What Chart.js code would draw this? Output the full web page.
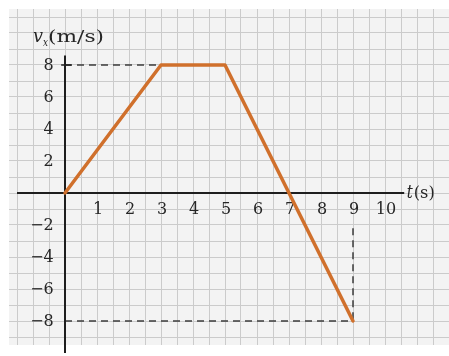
<!DOCTYPE html>
<html>
<head>
<meta charset="utf-8">
<script src="https://cdn.jsdelivr.net/npm/chart.js@4/dist/chart.umd.min.js"></script>
<style>
  html, body { margin: 0; padding: 0; background: #ffffff; }
  #wrap { width: 449px; height: 356px; }
</style>
</head>
<body>
<div id="wrap"><canvas id="vt" width="449" height="356"></canvas></div>
<script>
// 速度-時間グラフのデータ
const timeValues = [0, 3, 5, 9];
const velocityValues = [0, 8, 8, -8];

// 目盛りラベル
const xTickValues = [1, 2, 3, 4, 5, 6, 7, 8, 9, 10];
const xTickLabels = ['1', '2', '3', '4', '5', '6', '7', '8', '9', '10'];
const yTickValues = [8, 6, 4, 2, -2, -4, -6, -8];
const yTickLabels = ['8', '6', '4', '2', '\u22122', '\u22124', '\u22126', '\u22128'];

// 補助線（破線）
const guideTop = [[0, 8], [3, 8]];
const guideBottom = [[0, -8], [9, -8]];
const guideRight = [[9, -2.2], [9, -8]];

// 座標軸
const xAxisLine = [[-1.5, 0], [10.6, 0]];
const yAxisLine = [[0, 8.6], [0, -10]];
const yTickMark = [[-0.12, 8], [0.2, 8]];

const toPoints = pairs => pairs.map(p => ({ x: p[0], y: p[1] }));

// 方眼の線を step ごとに並べ直す
const gridTicks = step => s => {
    const ticks = [];
    for (let v = Math.ceil(s.min / step) * step; v <= s.max + 1e-9; v += step) {
        ticks.push({ value: Math.round(v * 1000) / 1000 });
    }
    s.ticks = ticks;
};

const LABEL_FONT = '16px "DejaVu Serif"';
const TEXT_COLOR = '#262626';

// 横幅を合わせてテキストを描く
function drawFitted(ctx, text, x, y, font, width) {
    ctx.save();
    ctx.font = font;
    const w = ctx.measureText(text).width;
    ctx.translate(x, y);
    if (width) ctx.scale(width / w, 1);
    ctx.fillText(text, 0, 0);
    ctx.restore();
}

// 背景・ラベル描画
const paperPlugin = {
    id: 'paper',
    beforeDraw(chart) {
        const { ctx, chartArea } = chart;
        ctx.save();
        ctx.fillStyle = '#f3f3f3';
        ctx.fillRect(chartArea.left, chartArea.top, chartArea.right - chartArea.left, chartArea.bottom - chartArea.top);
        ctx.restore();
    },
    beforeDatasetsDraw(chart) {
        const { ctx } = chart;
        const xs = chart.scales.x;
        const ys = chart.scales.y;
        ctx.save();
        ctx.fillStyle = TEXT_COLOR;
        ctx.font = LABEL_FONT;

        ctx.textAlign = 'center';
        ctx.textBaseline = 'middle';
        xTickValues.forEach((v, i) => {
            ctx.fillText(xTickLabels[i], xs.getPixelForValue(v) + 1, ys.getPixelForValue(-1.05));
        });

        ctx.textAlign = 'right';
        yTickValues.forEach((v, i) => {
            ctx.fillText(yTickLabels[i], xs.getPixelForValue(-0.35), ys.getPixelForValue(v) + 1);
        });

        // 縦軸タイトル v_x(m/s)
        ctx.textAlign = 'left';
        ctx.textBaseline = 'alphabetic';
        const tx = xs.getPixelForValue(-1);
        const ty = ys.getPixelForValue(9.45);
        drawFitted(ctx, 'v', tx, ty, 'italic 18px "DejaVu Serif"', 10);
        drawFitted(ctx, 'x', tx + 10, ty + 4, 'italic 11px "DejaVu Serif"', 5);
        drawFitted(ctx, '(m/s)', tx + 15, ty, '17px "DejaVu Serif"', 56);

        // 横軸タイトル t(s)
        const sx = xs.getPixelForValue(10.68);
        const sy = ys.getPixelForValue(-0.3);
        drawFitted(ctx, 't', sx, sy, 'italic 18px "DejaVu Serif"', 6);
        drawFitted(ctx, '(s)', sx + 7, sy, '17px "DejaVu Serif"', 21);
        ctx.restore();
    }
};

const dashed = {
    borderColor: '#3c3c3c',
    borderWidth: 1.5,
    borderDash: [7, 5],
    pointRadius: 0,
    fill: false
};
const solidAxis = {
    borderColor: '#1e1e1e',
    borderWidth: 2,
    pointRadius: 0,
    fill: false,
    clip: false
};

new Chart(document.getElementById('vt'), {
    type: 'line',
    data: {
        datasets: [
            {
                label: 'vx',
                data: timeValues.map((t, i) => ({ x: t, y: velocityValues[i] })),
                borderColor: '#d0702c',
                borderWidth: 3.5,
                borderJoinStyle: 'round',
                borderCapStyle: 'round',
                pointRadius: 0,
                tension: 0,
                fill: false
            },
            Object.assign({ data: toPoints(xAxisLine) }, solidAxis),
            Object.assign({ data: toPoints(yAxisLine) }, solidAxis),
            Object.assign({ data: toPoints(yTickMark) }, solidAxis, { borderWidth: 1.5 }),
            Object.assign({ data: toPoints(guideTop) }, dashed),
            Object.assign({ data: toPoints(guideBottom) }, dashed),
            Object.assign({ data: toPoints(guideRight) }, dashed)
        ]
    },
    options: {
        responsive: false,
        animation: false,
        devicePixelRatio: 1,
        layout: { padding: { left: 9, right: 0, top: 9, bottom: 11 } },
        plugins: { legend: { display: false }, tooltip: { enabled: false } },
        scales: {
            x: {
                type: 'linear',
                min: -1.75,
                max: 12,
                afterBuildTicks: gridTicks(0.5),
                ticks: { display: false },
                grid: { color: '#cbcbcb', lineWidth: 1, drawTicks: false },
                border: { display: false }
            },
            y: {
                type: 'linear',
                min: -9.5,
                max: 11.5,
                afterBuildTicks: gridTicks(1),
                ticks: { display: false },
                grid: { color: '#cbcbcb', lineWidth: 1, drawTicks: false },
                border: { display: false }
            }
        }
    },
    plugins: [paperPlugin]
});
</script>
</body>
</html>
